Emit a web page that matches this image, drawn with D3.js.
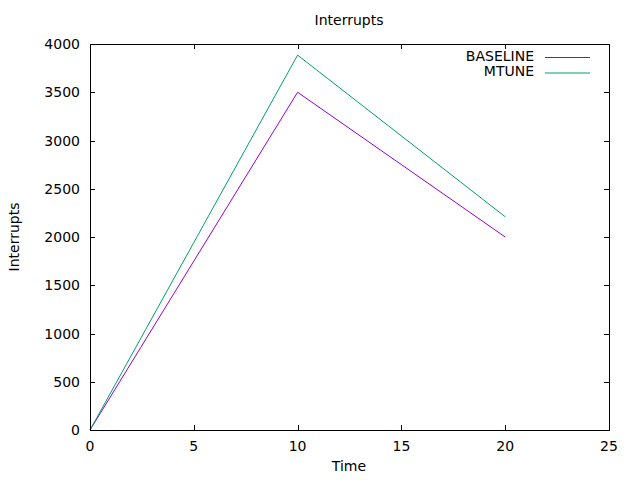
<!DOCTYPE html>
<html>
<head>
<meta charset="utf-8">
<script src="https://cdn.jsdelivr.net/npm/d3@7"></script>
<style>
body{margin:0;background:#fff;}
text{font-family:"DejaVu Sans",sans-serif;font-size:14px;fill:#000;}
</style>
</head>
<body>
<svg id="chart" width="640" height="480"></svg>
<script>
const times = [0, 10, 20];
const baseline = [0, 3500, 2000];
const mtune = [0, 3885, 2210];
const seriesNames = ["BASELINE", "MTUNE"];
const seriesColors = ["#9400d3", "#009e73"];
const xTicks = [0, 5, 10, 15, 20, 25];
const yTicks = [0, 500, 1000, 1500, 2000, 2500, 3000, 3500, 4000];

const svg = d3.select("#chart");
const L = 90, R = 609, T = 44, B = 430;
const x = d3.scaleLinear().domain([0, 25]).range([L, R]);
const y = d3.scaleLinear().domain([0, 4000]).range([B, T]);
const tickLen = 5;

// ticks (inward, mirrored)
const g = svg.append("g").attr("stroke", "#000").attr("stroke-width", 1);
xTicks.forEach(t => {
  const px = Math.round(x(t)) + 0.5;
  g.append("line").attr("x1", px).attr("x2", px).attr("y1", B).attr("y2", B - tickLen);
  g.append("line").attr("x1", px).attr("x2", px).attr("y1", T).attr("y2", T + tickLen);
});
yTicks.forEach(t => {
  const py = Math.round(y(t)) + 0.5;
  g.append("line").attr("x1", L).attr("x2", L + tickLen).attr("y1", py).attr("y2", py);
  g.append("line").attr("x1", R).attr("x2", R - tickLen).attr("y1", py).attr("y2", py);
});

// tick labels
svg.append("g").selectAll("text").data(xTicks).join("text")
  .attr("x", d => x(d)).attr("y", 451).attr("text-anchor", "middle").text(d => d);
svg.append("g").selectAll("text").data(yTicks).join("text")
  .attr("x", 80).attr("y", d => y(d) + 5).attr("text-anchor", "end").text(d => d);

// series
const line = d3.line().x((d, i) => x(times[i])).y(d => y(d));
[baseline, mtune].forEach((s, k) => {
  svg.append("path").attr("d", line(s)).attr("fill", "none")
    .attr("stroke", seriesColors[k]).attr("stroke-width", 1);
});

// border
svg.append("rect").attr("x", L + 0.5).attr("y", T + 0.5).attr("width", R - L).attr("height", B - T)
  .attr("fill", "none").attr("stroke", "#000").attr("stroke-width", 1);

// legend
seriesNames.forEach((n, k) => {
  const ly = 57 + k * 15.5;
  svg.append("text").attr("x", 534).attr("y", ly + 3.5).attr("text-anchor", "end").text(n);
  svg.append("line").attr("x1", 545).attr("x2", 590).attr("y1", ly + 0.5).attr("y2", ly + 0.5)
    .attr("stroke", seriesColors[k]).attr("stroke-width", 1);
});

// titles
svg.append("text").attr("x", 349).attr("y", 25).attr("text-anchor", "middle").text("Interrupts");
svg.append("text").attr("x", 349).attr("y", 471).attr("text-anchor", "middle").text("Time");
svg.append("text").attr("transform", "translate(19,237) rotate(-90)").attr("text-anchor", "middle").text("Interrupts");
</script>
</body>
</html>
